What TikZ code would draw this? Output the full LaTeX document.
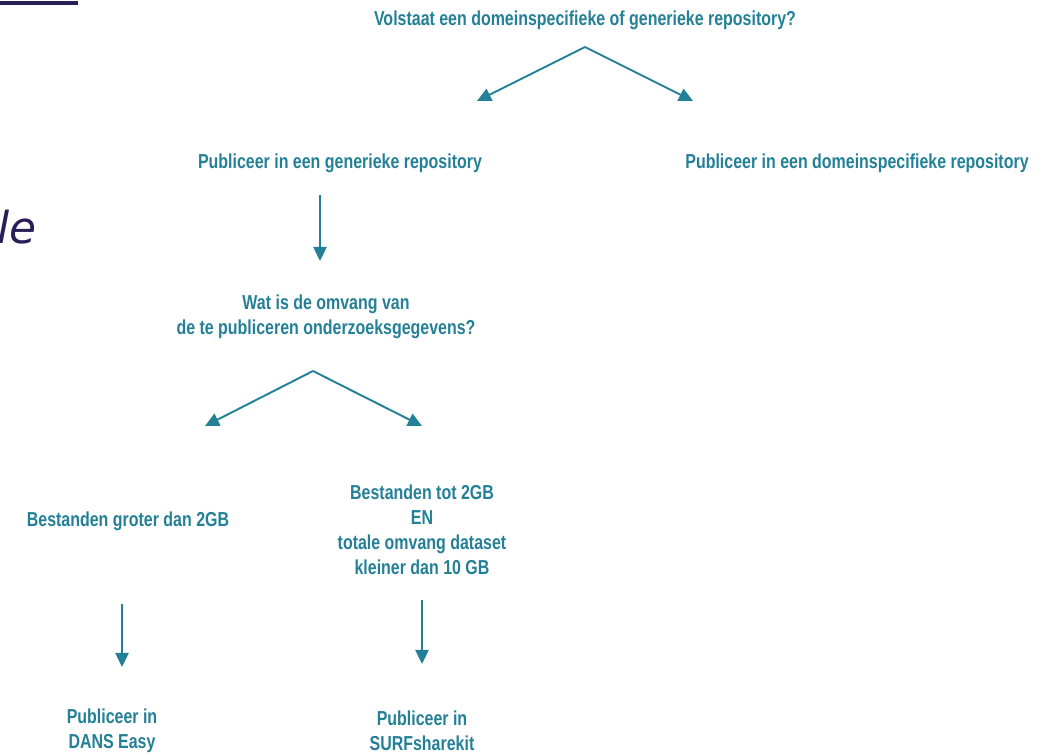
\documentclass[tikz,border=0pt]{standalone}
\usepackage{fontspec}
\setmainfont{Liberation Sans}[FakeStretch=0.79]
\newfontfamily\slidefont{DejaVu Sans}
\usetikzlibrary{arrows.meta, positioning}

\definecolor{tealblue}{RGB}{36,128,150}
\definecolor{slidepurple}{RGB}{42,30,88}

\tikzset{
  step text/.style={text=tealblue, font=\fontsize{11.5}{14.2}\selectfont\bfseries, align=center, inner sep=0pt},
  flow arrow/.style={draw=tealblue, line width=1.1pt, -{Triangle[length=8pt, width=7.5pt]}}
}

\begin{document}
\begin{tikzpicture}[x=0.02cm, y=-0.02cm]
  \useasboundingbox (0,0) rectangle (1051,754);
  % slide leftovers
  \draw[slidepurple, line width=2pt] (0,3) -- (78,3);
  \node[anchor=base west, inner sep=0pt, text=slidepurple, font=\slidefont\itshape\fontsize{25}{30}\selectfont] (le) at (-3,243) {le};

  % question 1
  \node[step text] (q1) at (585,20) {Volstaat een domeinspecifieke of generieke repository?};
  \coordinate (t1) at (585,47);
  \node[step text] (gen) at (340,163) {Publiceer in een generieke repository};
  \node[step text] (dom) at (857,163) {Publiceer in een domeinspecifieke repository};
  \coordinate (e1) at (477,101);
  \coordinate (e2) at (693,101);
  \draw[flow arrow] (t1) -- (e1);
  \draw[flow arrow] (t1) -- (e2);

  % question 2
  \coordinate (s1) at (320,195);
  \coordinate (e3) at (320,261);
  \draw[flow arrow] (s1) -- (e3);
  \node[step text] (q2) at (326,317) {Wat is de omvang van\\de te publiceren onderzoeksgegevens?};
  \coordinate (t2) at (313,371);
  \coordinate (e4) at (205,426);
  \coordinate (e5) at (422,426);
  \draw[flow arrow] (t2) -- (e4);
  \draw[flow arrow] (t2) -- (e5);

  \node[step text] (big) at (128,521) {Bestanden groter dan 2GB};
  \node[step text] (small) at (422,530) {Bestanden tot 2GB\\EN\\totale omvang dataset\\kleiner dan 10 GB};

  % answers
  \coordinate (s2) at (122,604);
  \coordinate (e6) at (122,667);
  \coordinate (s3) at (422,600);
  \coordinate (e7) at (422,664);
  \draw[flow arrow] (s2) -- (e6);
  \draw[flow arrow] (s3) -- (e7);
  \node[step text] (dans) at (112,731) {Publiceer in\\DANS Easy};
  \node[step text] (surf) at (422,731) {Publiceer in\\SURFsharekit};
\end{tikzpicture}
\end{document}
